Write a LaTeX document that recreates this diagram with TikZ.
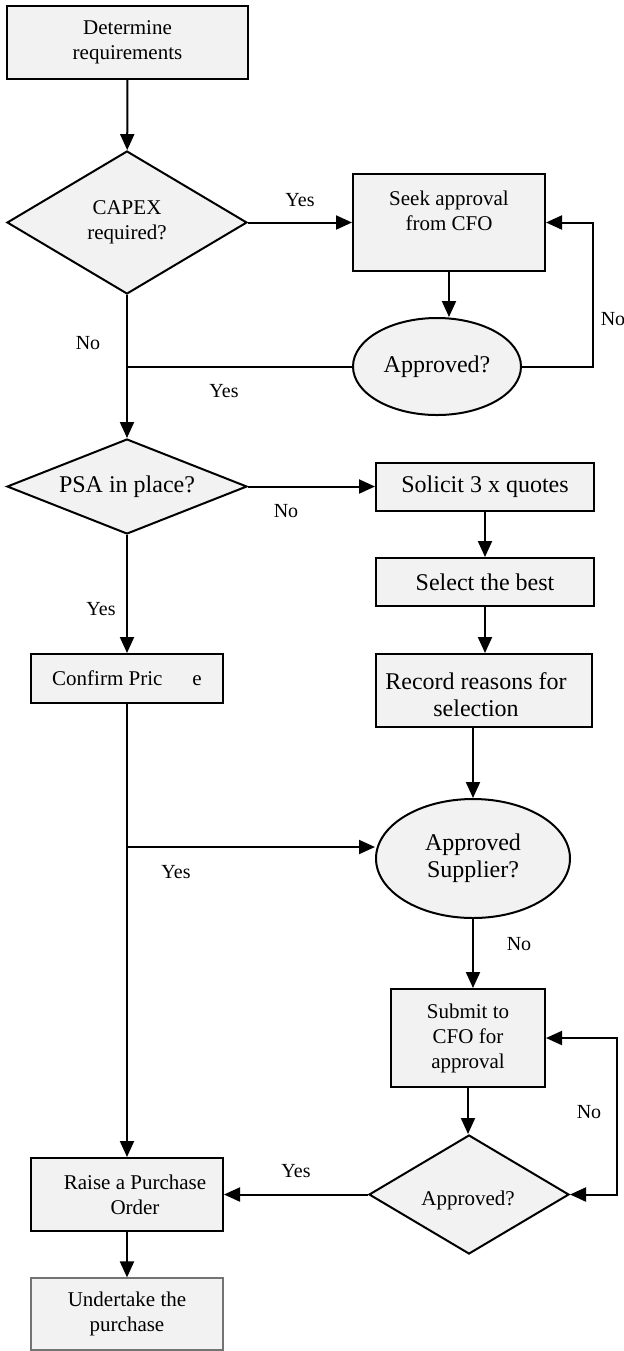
\documentclass[tikz,border=0pt]{standalone}
\usepackage{fontspec}
\setmainfont{Liberation Serif}
\usetikzlibrary{shapes.geometric,arrows.meta}
\definecolor{boxfill}{RGB}{242,242,242}

\tikzset{
  flow/.style={draw=black, line width=1pt, fill=boxfill, inner sep=0pt, align=center},
  stepbox/.style={flow, rectangle},
  decision/.style={flow, diamond},
  query/.style={flow, ellipse},
  small/.style={font=\fontsize{10.5pt}{12.5pt}\selectfont},
  large/.style={font=\fontsize{12pt}{13.5pt}\selectfont},
  tag/.style={font=\fontsize{10pt}{12pt}\selectfont, inner sep=0pt},
  tip/.tip={Triangle[length=8pt,width=7pt]},
  link/.style={draw, line width=1pt, -tip},
  plain/.style={draw, line width=1pt},
}

\begin{document}
\begin{tikzpicture}[x=0.5pt,y=-0.5pt]
\useasboundingbox (0,0) rectangle (624,1351);

% ---- process steps and decisions ----
\node[stepbox, small, minimum width=120.5pt, minimum height=36.5pt] (det) at (127.5,42.5) {Determine\\requirements};
\node[decision, small, aspect=1.68, minimum width=120pt, minimum height=71.5pt] (capex) at (127,222.5) {CAPEX\\required?};

\node[stepbox, minimum width=96pt, minimum height=48.5pt] (seek) at (449,222.5) {};
\node[small, align=center, inner sep=0pt] (seektext) at (449,211) {Seek approval\\from CFO};
\node[query, large, minimum width=84pt, minimum height=48.5pt] (appr1) at (437,366.5) {Approved?};

\node[decision, large, aspect=2.53, minimum width=120pt, minimum height=47.5pt] (psa) at (127,486.5) {PSA in place?};
\node[stepbox, large, minimum width=109pt, minimum height=24pt] (solicit) at (485,487) {Solicit 3 x quotes};
\node[stepbox, large, minimum width=109pt, minimum height=24pt] (select) at (485,582) {Select the best};
\node[stepbox, minimum width=108pt, minimum height=36.5pt] (record) at (484,690.5) {};
\node[large, align=center, inner sep=0pt] (recordtext) at (476,694.5) {Record reasons for\\selection};

\node[stepbox, small, minimum width=96pt, minimum height=24.5pt] (confirm) at (127,678.5) {Confirm Pric\hspace{15pt}e};
\node[query, large, minimum width=97pt, minimum height=59.5pt] (supplier) at (473,858.5) {Approved\\Supplier?};
\node[stepbox, small, minimum width=77pt, minimum height=49pt] (submit) at (468,1038) {Submit to\\CFO for\\approval};
\node[decision, small, aspect=1.68, minimum width=100pt, minimum height=59.5pt] (appr2) at (469,1194.5) {};
\node[small, inner sep=0pt] (appr2text) at (468,1200) {Approved?};

\node[stepbox, minimum width=96pt, minimum height=36.5pt] (raise) at (127,1194.5) {};
\node[small, align=center, inner sep=0pt] (raisetext) at (135,1195) {Raise a Purchase\\Order};
\node[stepbox, small, draw=black!55, line width=0.6pt, minimum width=96pt, minimum height=36pt] (under) at (127,1314) {Undertake the\\purchase};

% ---- junction and loop coordinates ----
\coordinate (loopA) at (593,0);
\coordinate (loopB) at (617,0);
\coordinate (join) at (127,847);

% ---- connectors ----
\draw[link] (det) -- (capex);
\draw[link] (capex.east) -- (capex.east -| seek.west);
\draw[link] (seek.south) -- (seek.south |- appr1.north);
\draw[link] (appr1.east) -- (appr1.east -| loopA) -- (seek.east -| loopA) -- (seek.east);
\draw[plain] (appr1.west) -- (appr1.west -| capex.south);
\draw[link] (capex.south) -- (psa.north);

\draw[link] (psa.east) -- (psa.east -| solicit.west);
\draw[link] (solicit.south) -- (select.north);
\draw[link] (select.south) -- (select.south |- record.north);
\draw[link] (record.south -| supplier.north) -- (supplier.north);
\draw[link] (psa.south) -- (confirm.north);
\draw[link] (confirm.south) -- (raise.north);
\draw[link] (join) -- (join -| supplier.west);

\draw[link] (supplier.south) -- (supplier.south |- submit.north);
\draw[link] (submit.south) -- (submit.south |- appr2.north);
\draw[plain, tip-tip]
  (submit.east) -- (submit.east -| loopB) -- (appr2.east -| loopB) -- (appr2.east);
\draw[link] (appr2.west) -- (appr2.west -| raise.east);
\draw[link] (raise.south) -- (under.north);

% ---- branch labels ----
\node[tag] (yes1) at (300,200) {Yes};
\node[tag] (no1) at (613,319) {No};
\node[tag] (no2) at (88,343) {No};
\node[tag] (yes2) at (224,391) {Yes};
\node[tag] (no3) at (286,511) {No};
\node[tag] (yes3) at (101,609) {Yes};
\node[tag] (yes4) at (176,872) {Yes};
\node[tag] (no4) at (519,944) {No};
\node[tag] (no5) at (589,1112) {No};
\node[tag] (yes5) at (296,1171) {Yes};
\end{tikzpicture}
\end{document}
